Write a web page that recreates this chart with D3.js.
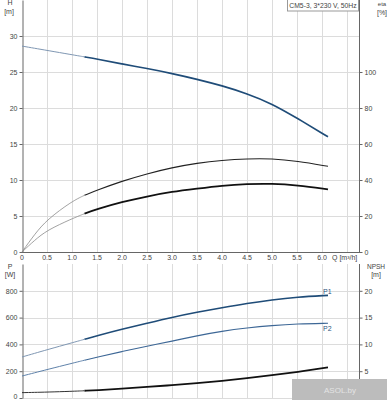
<!DOCTYPE html>
<html>
<head>
<meta charset="utf-8">
<script src="https://cdn.jsdelivr.net/npm/d3@7"></script>
<style>
  body { margin: 0; background: #fff; }
  text { font-family: "Liberation Sans", Arial, sans-serif; font-size: 7px; fill: #444; }
</style>
</head>
<body>
<div id="viz"></div>
<script>
var width = 387, height = 400;

// flow points (m3/h), shared by all curves
var q = [0, 0.25, 0.5, 1.0, 1.25, 1.5, 2.0, 2.5, 3.0, 3.5, 4.0, 4.5, 5.0, 5.5, 6.12];
var head = [28.6, 28.3, 28.0, 27.4, 27.1, 26.8, 26.1, 25.5, 24.8, 24.0, 23.1, 22.0, 20.6, 18.6, 16.0];
var eta1 = [0, 9.8, 18.0, 28.2, 31.5, 34.3, 39.4, 43.5, 46.9, 49.4, 51.0, 51.8, 51.9, 50.5, 47.6];
var eta2 = [0, 6.5, 12.1, 18.5, 21.3, 23.8, 27.8, 30.9, 33.5, 35.2, 36.9, 37.8, 38.0, 37.1, 34.8];
var p1 = [306, 333, 360, 412, 438, 465, 514, 558, 602, 640, 674, 706, 733, 753, 766];
var p2 = [164, 188, 212, 259, 282, 304, 347, 387, 424, 465, 499, 523, 541, 553, 558];
var npsh = [1.0, 1.05, 1.1, 1.25, 1.35, 1.45, 1.75, 2.05, 2.4, 2.75, 3.2, 3.7, 4.25, 4.85, 5.7];
var split = 1.25; // duty range starts here

var qTicks = [0, 0.5, 1.0, 1.5, 2.0, 2.5, 3.0, 3.5, 4.0, 4.5, 5.0, 5.5, 6.0];
var hTicks = [0, 5, 10, 15, 20, 25, 30];
var etaTicks = [0, 20, 40, 60, 80, 100];
var pTicks = [0, 200, 400, 600, 800];
var npshTicks = [5, 10, 15, 20];

var svg = d3.select("#viz").append("svg")
    .attr("width", width)
    .attr("height", height);

var x = d3.scaleLinear().domain([0, 6.74]).range([22, 359]);
var yH = d3.scaleLinear().domain([0, 35]).range([252, 0]);
var yEta = d3.scaleLinear().domain([0, 100]).range([252, 72]);
var yP = d3.scaleLinear().domain([0, 1000]).range([398, 264]);
var yN = d3.scaleLinear().domain([0, 25]).range([398, 264]);

var grid = svg.append("g").attr("stroke", "#dcdcdc").attr("stroke-width", 1);

// vertical grid, both panels
d3.range(1, 14).forEach(function(i) {
    var gx = Math.round(x(i * 0.5)) + 0.5;
    grid.append("line").attr("x1", gx).attr("x2", gx).attr("y1", 0).attr("y2", 252);
    grid.append("line").attr("x1", gx).attr("x2", gx).attr("y1", 264).attr("y2", 398);
});
hTicks.forEach(function(t) {
    var gy = Math.round(yH(t)) + 0.5;
    grid.append("line").attr("x1", 22).attr("x2", 359).attr("y1", gy).attr("y2", gy);
});
pTicks.forEach(function(t) {
    var gy = Math.round(yP(t)) + 0.5;
    grid.append("line").attr("x1", 22).attr("x2", 359).attr("y1", gy).attr("y2", gy);
});

// axes
function styleAxis(g) {
    g.select(".domain").attr("stroke", "#666");
    g.selectAll(".tick line").attr("stroke", "#666");
    g.selectAll(".tick text").attr("fill", "#444").style("font-size", "7px");
}

svg.append("g").attr("transform", "translate(22.5,0)")
    .call(d3.axisLeft(yH).tickValues(hTicks).tickSize(3).tickSizeOuter(0).tickPadding(2))
    .call(styleAxis);
svg.append("g").attr("transform", "translate(359.5,0)")
    .call(d3.axisRight(yEta).tickValues(etaTicks).tickSize(3).tickSizeOuter(0).tickPadding(2))
    .call(styleAxis)
    .select(".domain").attr("d", "M0,0V252");
svg.append("line").attr("x1", 22).attr("x2", 360).attr("y1", 252.5).attr("y2", 252.5).attr("stroke", "#666");

svg.append("g").attr("transform", "translate(22.5,0)")
    .call(d3.axisLeft(yP).tickValues(pTicks).tickSize(3).tickSizeOuter(0).tickPadding(2))
    .call(styleAxis)
    .selectAll(".tick text").attr("dy", function(d) { return d === 0 ? "0.1em" : "0.32em"; });
svg.append("g").attr("transform", "translate(359.5,0)")
    .call(d3.axisRight(yN).tickValues(npshTicks).tickSize(3).tickSizeOuter(0).tickPadding(2))
    .call(styleAxis)
    .select(".domain").attr("d", "M0,264V398");

// Q labels between the panels
svg.append("g").selectAll("text")
    .data(qTicks)
    .enter().append("text")
    .attr("x", function(d) { return x(d); })
    .attr("y", 260)
    .attr("text-anchor", "middle")
    .text(function(d) { return d === 0 ? "0" : d.toFixed(1); });
svg.append("text").attr("x", 332).attr("y", 260).html("Q [m&#179;/h]");

// unit labels
svg.append("text").attr("x", 10).attr("y", 5).attr("text-anchor", "middle").text("H");
svg.append("text").attr("x", 9).attr("y", 14).attr("text-anchor", "middle").text("[m]");
svg.append("text").attr("x", 382).attr("y", 6).attr("text-anchor", "middle").style("font-size", "6px").text("eta");
svg.append("text").attr("x", 382).attr("y", 15).attr("text-anchor", "middle").text("[%]");
svg.append("text").attr("x", 10).attr("y", 269).attr("text-anchor", "middle").text("P");
svg.append("text").attr("x", 10).attr("y", 277).attr("text-anchor", "middle").text("[W]");
svg.append("text").attr("x", 376).attr("y", 269).attr("text-anchor", "middle").style("font-size", "6.5px").text("NPSH");
svg.append("text").attr("x", 376).attr("y", 277).attr("text-anchor", "middle").text("[m]");

// title box
svg.append("rect").attr("x", 287.5).attr("y", -0.5).attr("width", 71).attr("height", 11.5)
    .attr("fill", "#fff").attr("stroke", "#999");
svg.append("text").attr("x", 323).attr("y", 8).attr("text-anchor", "middle")
    .style("font-size", "6.8px").text("CM5-3, 3*230 V, 50Hz");

// curves: thin before the duty range, thick inside it
function drawCurve(vals, yScale, thin, thick) {
    var pts = q.map(function(d, i) { return [d, vals[i]]; });
    var line = d3.line()
        .x(function(d) { return x(d[0]); })
        .y(function(d) { return yScale(d[1]); })
        .curve(d3.curveBasis);
    svg.append("path")
        .attr("d", line(pts.filter(function(d) { return d[0] <= split; })))
        .attr("fill", "none").attr("stroke", thin[0]).attr("stroke-width", thin[1]);
    svg.append("path")
        .attr("d", line(pts.filter(function(d) { return d[0] >= split; })))
        .attr("fill", "none").attr("stroke", thick[0]).attr("stroke-width", thick[1]);
}

drawCurve(head, yH, ["#7f97b3", 1], ["#1f4c78", 1.7]);
drawCurve(eta1, yEta, ["#8a8a8a", 0.8], ["#222", 1.1]);
drawCurve(eta2, yEta, ["#8a8a8a", 0.8], ["#111", 1.8]);
drawCurve(p1, yP, ["#7f97b3", 1], ["#1f4c78", 1.6]);
drawCurve(p2, yP, ["#5f82aa", 1], ["#3d6796", 1.1]);
drawCurve(npsh, yN, ["#333", 1], ["#111", 1.8]);

svg.append("text").attr("x", 323).attr("y", 294).style("fill", "#2a5580").text("P1");
svg.append("text").attr("x", 323).attr("y", 331).style("fill", "#2a5580").text("P2");

// watermark box
svg.append("rect").attr("x", 292).attr("y", 379).attr("width", 95).attr("height", 21).attr("fill", "#bcbcbc");
svg.append("text").attr("x", 340).attr("y", 393).attr("text-anchor", "middle")
    .style("fill", "#e4e4e4").style("font-size", "8px").text("ASOL.by");
</script>
</body>
</html>
